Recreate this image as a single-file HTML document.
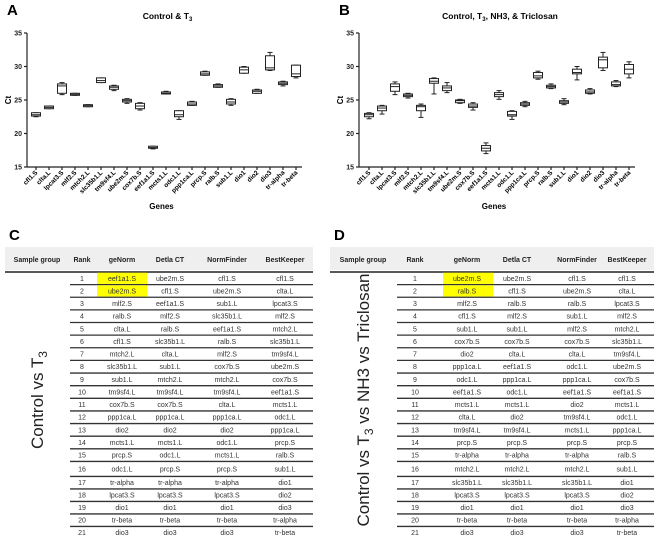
<!DOCTYPE html>
<html><head><meta charset="utf-8"><style>
body{margin:0;background:#fff;}
svg{display:block;font-family:"Liberation Sans",sans-serif;}
</style></head><body>
<svg id="fig" width="660" height="541" viewBox="0 0 660 541" xmlns="http://www.w3.org/2000/svg">
<g id="chartA"></g>
<g id="chartB"></g>
<g id="tableC"></g>
<g id="tableD"></g>
</svg>
<script>
const genes=["cfl1.S","clta.L","lpcat3.S","mlf2.S","mtch2.L","slc35b1.L","tm9sf4.L","ube2m.S","cox7b.S","eef1a1.S","mcts1.L","odc1.L","ppp1ca.L","prcp.S","ralb.S","sub1.L","dio1","dio2","dio3","tr-alpha","tr-beta"];
const yTicks=[15,20,25,30,35];
// Panel A: min, q1, median, q3, max
const aMin=[22.5,23.7,25.8,25.7,24.0,27.6,26.4,24.5,23.5,17.7,25.9,22.1,24.2,28.7,26.9,24.2,29.0,26.0,29.4,27.1,28.3];
const aQ1=[22.6,23.7,26.0,25.7,24.0,27.6,26.6,24.7,23.7,17.8,25.9,22.5,24.2,28.7,26.9,24.4,29.0,26.0,29.5,27.3,28.5];
const aMed=[22.8,23.9,27.1,25.85,24.15,27.9,26.9,24.9,24.1,17.9,26.0,22.8,24.4,28.9,27.1,24.7,29.5,26.3,29.8,27.5,28.9];
const aQ3=[23.1,24.1,27.4,26.0,24.3,28.3,27.1,25.1,24.5,18.1,26.2,23.4,24.7,29.2,27.3,25.1,29.9,26.5,31.6,27.7,30.2];
const aMax=[23.1,24.1,27.6,26.0,24.3,28.3,27.2,25.2,24.6,18.1,26.3,23.4,24.8,29.3,27.4,25.2,30.0,26.6,32.1,27.8,30.2];
// Panel B
const bMin=[22.2,22.9,25.8,25.3,22.4,25.9,26.1,24.5,23.5,17.0,25.1,22.1,24.0,28.1,26.7,24.3,28.0,25.9,29.4,27.0,28.3];
const bQ1=[22.5,23.4,26.3,25.5,23.4,27.5,26.4,24.6,23.9,17.4,25.5,22.6,24.2,28.3,26.8,24.5,28.9,26.0,29.8,27.1,28.9];
const bMed=[22.8,23.8,27.0,25.7,24.0,27.8,26.8,24.9,24.1,17.8,25.8,22.8,24.4,28.6,27.0,24.7,29.1,26.2,31.0,27.3,29.6];
const bQ3=[23.0,24.1,27.4,25.9,24.2,28.2,27.1,25.0,24.4,18.2,26.1,23.3,24.6,29.1,27.2,24.9,29.6,26.5,31.4,27.7,30.3];
const bMax=[23.1,24.2,27.7,26.0,24.4,28.3,27.6,25.1,24.6,18.6,26.4,23.4,24.8,29.3,27.4,25.2,30.0,26.7,32.1,27.9,30.7];

const NS="http://www.w3.org/2000/svg";
function mk(tag,attrs,parent,txt){const e=document.createElementNS(NS,tag);for(const k in attrs)e.setAttribute(k,attrs[k]);if(txt!==undefined)e.textContent=txt;parent.appendChild(e);return e;}

function drawChart(g,ox,firstX,lastX,letter,title,mins,q1s,meds,q3s,maxs){
  const yTop=33,yBot=167;
  const y=v=>yBot-(v-15)*(yBot-yTop)/20;
  const x=i=>firstX+i*(lastX-firstX)/(genes.length-1);
  let t=mk('text',{x:ox-20,y:15,'font-size':15,'font-weight':'bold'},g,letter);
  
  t=mk('text',{x:(ox+lastX)/2+6,y:19,'font-size':8.5,'font-weight':'bold','text-anchor':'middle'},g,'');
  
  t.innerHTML=title;
  const ax=mk('g',{stroke:'#222','stroke-width':1.2},g);
  
  mk('line',{x1:ox,y1:yTop,x2:ox,y2:yBot},ax);
  mk('line',{x1:ox,y1:yBot,x2:lastX+6,y2:yBot},ax);
  yTicks.forEach(v=>{
    mk('line',{x1:ox-3,y1:y(v),x2:ox,y2:y(v)},ax);
    const l=mk('text',{x:ox-5,y:y(v)+2.5,'font-size':7,'font-weight':'bold','text-anchor':'end',fill:'#222'},g,String(v));
    
  });
  const yl=mk('text',{x:0,y:0,'font-size':8,'font-weight':'bold','text-anchor':'middle',transform:`translate(${ox-16},${(yTop+yBot)/2}) rotate(-90)`},g,'Ct');
  
  const xl=mk('text',{x:(ox+lastX)/2,y:209,'font-size':8,'font-weight':'bold','text-anchor':'middle'},g,'Genes');
  
  genes.forEach((gn,i)=>{
    const cx=x(i);
    mk('line',{x1:cx,y1:yBot,x2:cx,y2:yBot+3,stroke:'#222','stroke-width':1.2},g);
    const tl=mk('text',{x:0,y:0,'font-size':6.5,'font-weight':'bold','text-anchor':'end',transform:`translate(${cx+2},${yBot+6}) rotate(-45)`},g,gn);
    
    const b=mk('g',{stroke:'#222','stroke-width':1,fill:'#fff'},g);
    
    const w=9;
    mk('line',{x1:cx,y1:y(maxs[i]),x2:cx,y2:y(mins[i])},b);
    mk('line',{x1:cx-2.5,y1:y(maxs[i]),x2:cx+2.5,y2:y(maxs[i])},b);
    mk('line',{x1:cx-2.5,y1:y(mins[i]),x2:cx+2.5,y2:y(mins[i])},b);
    mk('rect',{x:cx-w/2,y:y(q3s[i]),width:w,height:Math.max(1,y(q1s[i])-y(q3s[i]))},b);
    mk('line',{x1:cx-w/2,y1:y(meds[i]),x2:cx+w/2,y2:y(meds[i])},b);
  });
}
drawChart(document.getElementById('chartA'),27,36,296,'A','Control &amp; T<tspan font-size="6" dy="2">3</tspan>',aMin,aQ1,aMed,aQ3,aMax);
drawChart(document.getElementById('chartB'),359,369,629,'B','Control, T<tspan font-size="6" dy="2">3</tspan><tspan dy="-2">, NH3, &amp; Triclosan</tspan>',bMin,bQ1,bMed,bQ3,bMax);

const headers=["Sample group","Rank","geNorm","Detla CT","NormFinder","BestKeeper"];
const cGe=["eef1a1.S","ube2m.S","mlf2.S","ralb.S","clta.L","cfl1.S","mtch2.L","slc35b1.L","sub1.L","tm9sf4.L","cox7b.S","ppp1ca.L","dio2","mcts1.L","prcp.S","odc1.L","tr-alpha","lpcat3.S","dio1","tr-beta","dio3"];
const cDe=["ube2m.S","cfl1.S","eef1a1.S","mlf2.S","ralb.S","slc35b1.L","clta.L","sub1.L","mtch2.L","tm9sf4.L","cox7b.S","ppp1ca.L","dio2","mcts1.L","odc1.L","prcp.S","tr-alpha","lpcat3.S","dio1","tr-beta","dio3"];
const cNo=["cfl1.S","ube2m.S","sub1.L","slc35b1.L","eef1a1.S","ralb.S","mlf2.S","cox7b.S","mtch2.L","tm9sf4.L","clta.L","ppp1ca.L","dio2","odc1.L","mcts1.L","prcp.S","tr-alpha","lpcat3.S","dio1","tr-beta","dio3"];
const cBe=["cfl1.S","clta.L","lpcat3.S","mlf2.S","mtch2.L","slc35b1.L","tm9sf4.L","ube2m.S","cox7b.S","eef1a1.S","mcts1.L","odc1.L","ppp1ca.L","prcp.S","ralb.S","sub1.L","dio1","dio2","dio3","tr-alpha","tr-beta"];
const dGe=["ube2m.S","ralb.S","mlf2.S","cfl1.S","sub1.L","cox7b.S","dio2","ppp1ca.L","odc1.L","eef1a1.S","mcts1.L","clta.L","tm9sf4.L","prcp.S","tr-alpha","mtch2.L","slc35b1.L","lpcat3.S","dio1","tr-beta","dio3"];
const dDe=["ube2m.S","cfl1.S","ralb.S","mlf2.S","sub1.L","cox7b.S","clta.L","eef1a1.S","ppp1ca.L","odc1.L","mcts1.L","dio2","tm9sf4.L","prcp.S","tr-alpha","mtch2.L","slc35b1.L","lpcat3.S","dio1","tr-beta","dio3"];
const dNo=["cfl1.S","ube2m.S","ralb.S","sub1.L","mlf2.S","cox7b.S","clta.L","odc1.L","ppp1ca.L","eef1a1.S","dio2","tm9sf4.L","mcts1.L","prcp.S","tr-alpha","mtch2.L","slc35b1.L","lpcat3.S","dio1","tr-beta","dio3"];
const dBe=["cfl1.S","clta.L","lpcat3.S","mlf2.S","mtch2.L","slc35b1.L","tm9sf4.L","ube2m.S","cox7b.S","eef1a1.S","mcts1.L","odc1.L","ppp1ca.L","prcp.S","ralb.S","sub1.L","dio1","dio2","dio3","tr-alpha","tr-beta"];

function rowTop(k){ // k = 0..20
  if(k<=15) return 272+k*12.63;
  return 272+15*12.63+15+(k-16)*12.5;
}
function drawTable(g,x0,x1,lineX,cols,hl,letter,groupLabel,data){
  let t=mk('text',{x:x0+4,y:240,'font-size':15,'font-weight':'bold'},g,letter);
  
  const hb=mk('rect',{x:x0,y:247,width:x1-x0,height:23,fill:'#efefef'},g);
  
  mk('line',{x1:x0,y1:272,x2:x1,y2:272,stroke:'#222','stroke-width':1.5},g);
  headers.forEach((h,i)=>{
    const e=mk('text',{x:cols[i],y:262,'font-size':7,'font-weight':'bold','text-anchor':'middle',fill:'#222'},g,h);
    
  });
  for(let k=0;k<21;k++){
    const top=rowTop(k),bot=k<20?rowTop(k+1):top+13;
    if(k<2){const r=mk('rect',{x:hl[0],y:top+0.7,width:hl[1]-hl[0],height:bot-top-1.4,fill:'#ffff00'},g);
      }
    if(k<20) mk('line',{x1:lineX,y1:bot,x2:x1,y2:bot,stroke:'#333','stroke-width':1.3},g);
    const ty=k<16?(top+bot)/2+2.5:top+8.5;
    const rk=mk('text',{x:cols[1],y:ty,'font-size':7,'text-anchor':'middle',fill:'#333'},g,String(k+1));
    
    data.forEach((col,j)=>{
      const c=mk('text',{x:cols[j+2],y:ty,'font-size':7,'text-anchor':'middle',fill:'#333'},g,col[k]);
      
    });
  }
  const gl=mk('text',{x:0,y:0,'font-size':17,'text-anchor':'middle',fill:'#222',transform:`translate(${cols[0]+6},400) rotate(-90)`},g,'');
  gl.innerHTML=groupLabel;
  
}
drawTable(document.getElementById('tableC'),5,313,70,[37,82,122,170,227,285],[97,147],'C','Control vs T<tspan font-size="12" dy="4">3</tspan>',[cGe,cDe,cNo,cBe]);
drawTable(document.getElementById('tableD'),330,654,397,[363,415,467,517,577,627],[443,493],'D','Control vs T<tspan font-size="12" dy="4">3</tspan><tspan dy="-4"> vs NH3 vs Triclosan</tspan>',[dGe,dDe,dNo,dBe]);
</script>
</body></html>
